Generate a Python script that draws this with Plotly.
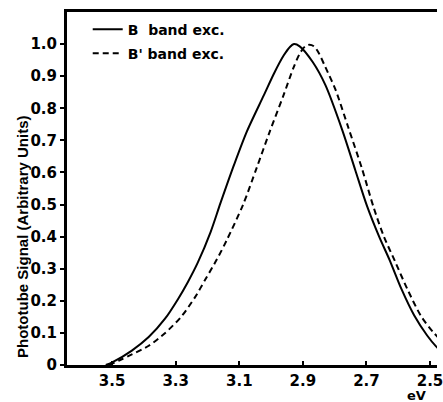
import plotly.graph_objects as go

# B band excitation (solid)
b_ev = [3.52, 3.50, 3.438, 3.385, 3.333, 3.293, 3.262, 3.231, 3.190, 3.159,
        3.116, 3.076, 3.023, 2.990, 2.960, 2.940, 2.928, 2.910, 2.869, 2.829,
        2.776, 2.735, 2.698, 2.660, 2.627, 2.590, 2.550, 2.509, 2.481, 2.47]
b_sig = [0.0, 0.008, 0.045, 0.087, 0.145, 0.205, 0.258, 0.318, 0.415, 0.505,
         0.625, 0.728, 0.840, 0.910, 0.965, 0.992, 1.0, 0.993, 0.944, 0.872,
         0.732, 0.607, 0.495, 0.400, 0.327, 0.237, 0.155, 0.092, 0.058, 0.048]

# B' band excitation (dashed)
bp_ev = [3.51, 3.478, 3.438, 3.385, 3.333, 3.283, 3.240, 3.206, 3.170, 3.138,
         3.088, 3.045, 3.005, 2.961, 2.930, 2.910, 2.893, 2.880, 2.865, 2.850,
         2.829, 2.797, 2.757, 2.714, 2.677, 2.645, 2.611, 2.571, 2.528, 2.488, 2.47]
bp_sig = [0.0, 0.014, 0.033, 0.060, 0.100, 0.150, 0.210, 0.268, 0.330, 0.392,
          0.500, 0.615, 0.725, 0.840, 0.925, 0.970, 0.993, 0.998, 0.993, 0.972,
          0.928, 0.857, 0.740, 0.612, 0.490, 0.400, 0.325, 0.236, 0.152, 0.100, 0.082]

x_ticks = [3.5, 3.3, 3.1, 2.9, 2.7, 2.5]
x_ticktext = ["3.5", "3.3", "3.1", "2.9", "2.7", "2.5"]
y_ticks = [0, 0.1, 0.2, 0.3, 0.4, 0.5, 0.6, 0.7, 0.8, 0.9, 1.0]
y_ticktext = ["0", "0.1", "0.2", "0.3", "0.4", "0.5", "0.6", "0.7", "0.8", "0.9", "1.0"]

TICKFONT = dict(family="DejaVu Sans", size=15, color="black", weight="bold")
LEGFONT = dict(family="DejaVu Sans", size=14, color="black", weight="bold")

fig = go.Figure()
fig.add_trace(go.Scatter(x=b_ev, y=b_sig, mode="lines", name="B  band exc.",
                         line=dict(color="black", width=2, shape="spline", smoothing=0.8),
                         legend="legend"))
fig.add_trace(go.Scatter(x=bp_ev, y=bp_sig, mode="lines", name="B' band exc.",
                         line=dict(color="black", width=2, dash="6px,4px", shape="spline", smoothing=0.8),
                         legend="legend2"))

fig.update_layout(
    width=443, height=402,
    margin=dict(l=67, r=0, t=12, b=37),
    paper_bgcolor="white", plot_bgcolor="white",
    showlegend=True,
    legend=dict(x=0.056, y=0.995, xanchor="left", yanchor="top",
                bgcolor="rgba(0,0,0,0)", font=LEGFONT, itemwidth=30),
    legend2=dict(x=0.056, y=0.927, xanchor="left", yanchor="top",
                 bgcolor="rgba(0,0,0,0)", font=LEGFONT, itemwidth=30),
    xaxis=dict(range=[3.642, 2.478], tickvals=x_ticks, ticktext=x_ticktext,
               ticks="inside", ticklen=4, tickwidth=2, tickcolor="black",
               showline=True, linewidth=3, linecolor="black", mirror=True,
               showgrid=False, zeroline=False, tickfont=TICKFONT,
               ticklabeloverflow="allow"),
    yaxis=dict(range=[0, 1.1], tickvals=y_ticks, ticktext=y_ticktext,
               ticks="outside", ticklen=4, tickwidth=2, tickcolor="black",
               showline=True, linewidth=3, linecolor="black",
               showgrid=False, zeroline=False, tickfont=TICKFONT),
    annotations=[
        dict(text="Phototube Signal (Arbitrary Units)", xref="paper", yref="paper",
             x=-0.122, y=0.365, xanchor="center", yanchor="middle", textangle=-90,
             showarrow=False,
             font=dict(family="Liberation Sans", size=15, color="black", weight="bold")),
        dict(text="eV", xref="paper", yref="paper", x=0.945, y=-0.085,
             xanchor="center", yanchor="middle", showarrow=False,
             font=dict(family="DejaVu Sans", size=13, color="black", weight="bold")),
    ],
)

fig.write_html("out.html",
               config={"displayModeBar": False},
               post_script="document.body.style.margin='0px';document.body.style.overflow='hidden';")
